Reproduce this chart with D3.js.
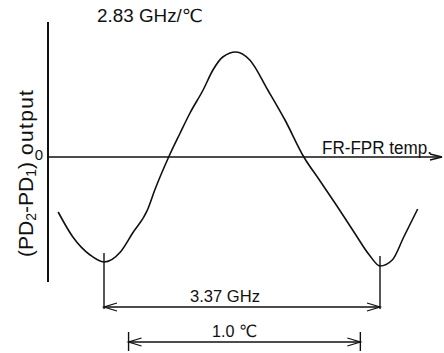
<!DOCTYPE html>
<html>
<head>
<meta charset="utf-8">
<script src="https://cdn.jsdelivr.net/npm/d3@7"></script>
<style>
  body { margin: 0; background: #fff; }
  svg text { font-family: "Liberation Sans", Arial, "DejaVu Sans", sans-serif; fill: #111; }
</style>
</head>
<body>
<div id="chart"></div>
<script>
// curve: detuning (GHz) vs normalised (PD2-PD1) output
const detuningGHz = [-0.56, -0.38, -0.17, 0, 0.20, 0.35, 0.53, 0.62, 0.79, 0.93, 1.05, 1.21, 1.33,
  1.45, 1.61, 1.78, 2.00, 2.21, 2.44, 2.63, 2.82, 3.06, 3.24, 3.37, 3.52, 3.66, 3.83];
const output = [-0.55, -0.80, -0.98, -1.05, -0.95, -0.76, -0.53, -0.33, 0, 0.24, 0.44, 0.67, 0.87,
  1.00, 1.05, 0.97, 0.67, 0.37, 0, -0.23, -0.46, -0.76, -0.98, -1.09, -1.03, -0.80, -0.52];

const periodGHz = [0, 3.37];        // minimum to minimum
const tempSpanGHz = [0.30, 3.13];   // 1.0 degC = 2.83 GHz
const slopeLabel = '2.83 GHz/℃';
const periodLabel = '3.37 GHz';
const tempLabel = '1.0 ℃';
const xAxisLabel = 'FR-FPR temp.';
const zeroLabel = '0';

const width = 444, height = 353;

const svg = d3.select('#chart')
  .append('svg')
  .attr('width', width)
  .attr('height', height)
  .attr('viewBox', '0 0 ' + width + ' ' + height);

const x = d3.scaleLinear().domain(periodGHz).range([104, 380]);
const y = d3.scaleLinear().domain([-1, 1]).range([257, 57]);

const ink = '#111';

// open arrow head, tip at (tx, ty), dir = +1 points right, -1 left
function arrowHead(g, tx, ty, dir, len, half) {
  g.append('path')
    .attr('d', 'M' + (tx - dir * len) + ',' + (ty - half) + 'L' + tx + ',' + ty + 'L' + (tx - dir * len) + ',' + (ty + half))
    .attr('fill', 'none')
    .attr('stroke', ink)
    .attr('stroke-width', 1.3);
}

// text squeezed to the width it has in the figure
function label(g, tx, ty, size, len, str) {
  return g.append('text')
    .attr('x', tx)
    .attr('y', ty)
    .attr('textLength', len)
    .attr('lengthAdjust', 'spacingAndGlyphs')
    .style('font-size', size + 'px')
    .text(str);
}

// axes
const xLeft = x.invert(48), xRight = x.invert(442);
svg.append('line')
  .attr('x1', x(xLeft)).attr('x2', x(xLeft))
  .attr('y1', y(1.35)).attr('y2', y(-1.25))
  .attr('stroke', ink).attr('stroke-width', 2);

svg.append('line')
  .attr('x1', x(xLeft)).attr('x2', x(xRight))
  .attr('y1', y(0)).attr('y2', y(0))
  .attr('stroke', ink).attr('stroke-width', 1.6);
arrowHead(svg, x(xRight), y(0), 1, 12, 3);

svg.append('text')
  .attr('x', x(xLeft) - 9)
  .attr('y', y(0) + 3)
  .attr('text-anchor', 'middle')
  .style('font-size', '15px')
  .text(zeroLabel);

label(svg, 322, y(0) - 3, 18, 110, xAxisLabel);

// y label with subscripts, reads bottom to top from y = 257
const yl = svg.append('text')
  .attr('transform', 'translate(33,257) rotate(-90)')
  .style('font-size', '21px');
yl.append('tspan').text('(PD');
yl.append('tspan').attr('dy', 3).style('font-size', '14px').text('2');
yl.append('tspan').attr('dy', -3).text('-PD');
yl.append('tspan').attr('dy', 3).style('font-size', '14px').text('1');
yl.append('tspan').attr('dy', -3).text(')');
yl.append('tspan').style('letter-spacing', '1.3px').text('\u00a0output');

// title
label(svg, 97, 22, 18, 106, slopeLabel);

// the curve
const pts = detuningGHz.map((d, i) => [d, output[i]]);
const line = d3.line()
  .x(d => x(d[0]))
  .y(d => y(d[1]))
  .curve(d3.curveMonotoneX);

svg.append('path')
  .attr('d', line(pts))
  .attr('fill', 'none')
  .attr('stroke', ink)
  .attr('stroke-width', 1.6)
  .attr('stroke-linejoin', 'round');

// period dimension (3.37 GHz)
const dimY = y(-1.5);
periodGHz.forEach((p, i) => {
  svg.append('line')
    .attr('x1', x(p)).attr('x2', x(p))
    .attr('y1', y(i ? -0.99 : -0.96)).attr('y2', dimY + 2)
    .attr('stroke', ink).attr('stroke-width', 1.4);
});
svg.append('line')
  .attr('x1', x(periodGHz[0])).attr('x2', x(periodGHz[1]))
  .attr('y1', dimY).attr('y2', dimY)
  .attr('stroke', ink).attr('stroke-width', 1.3);
arrowHead(svg, x(periodGHz[0]), dimY, -1, 13, 4);
arrowHead(svg, x(periodGHz[1]), dimY, 1, 13, 4);
label(svg, 190, dimY - 5, 17, 70, periodLabel);

// temperature dimension (1.0 degC)
const tY = y(-1.85);
tempSpanGHz.forEach(t => {
  svg.append('line')
    .attr('x1', x(t)).attr('x2', x(t))
    .attr('y1', tY - 10).attr('y2', tY + 9)
    .attr('stroke', ink).attr('stroke-width', 1.4);
});
svg.append('line')
  .attr('x1', x(tempSpanGHz[0])).attr('x2', x(tempSpanGHz[1]))
  .attr('y1', tY).attr('y2', tY)
  .attr('stroke', ink).attr('stroke-width', 1.3);
arrowHead(svg, x(tempSpanGHz[0]), tY, -1, 13, 4);
arrowHead(svg, x(tempSpanGHz[1]), tY, 1, 13, 4);
label(svg, 212, tY - 5, 17, 45, tempLabel);
</script>
</body>
</html>
